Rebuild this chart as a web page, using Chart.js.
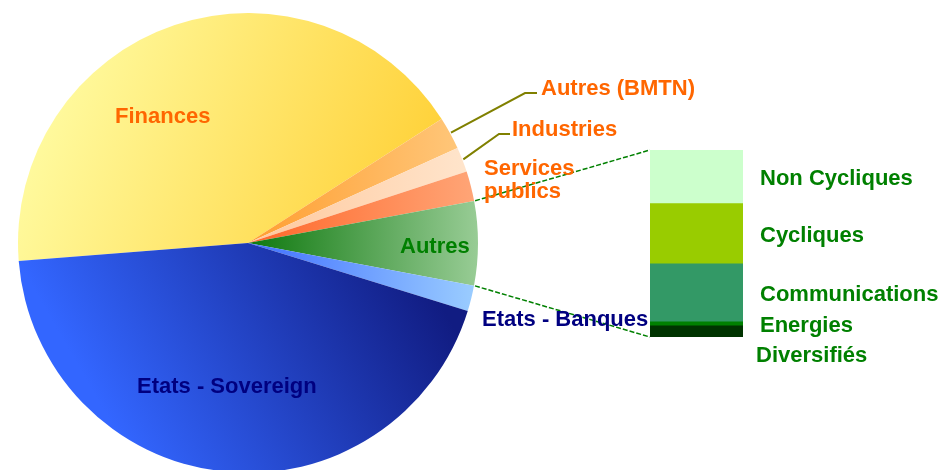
<html>

<head>
    <script src="https://cdn.jsdelivr.net/npm/chart.js@4/dist/chart.umd.min.js"></script>
    <style>
        body { margin: 0; overflow: hidden; background: #fff; }
        #pieChart { position: absolute; left: 0; top: 0; }
        #barChart { position: absolute; left: 640px; top: 140px; }
    </style>
</head>

<body>
    <canvas id="pieChart" width="940" height="480"></canvas>
    <canvas id="barChart" width="300" height="230"></canvas>
    <script>
        // pie slices, clockwise starting from Finances
        var pieLabels = ["Finances", "Autres (BMTN)", "Industries", "Services publics", "Autres", "Etats - Banques", "Etats - Sovereign"];
        var pieValues = [42.2, 2.3, 1.75, 2.1, 5.9, 1.8, 44.0];

        // breakdown of "Autres", bottom to top
        var barLabels = ["Diversifiés", "Energies", "Communications", "Cycliques", "Non Cycliques"];
        var barValues = [0.35, 0.13, 1.83, 1.9, 1.69];
        var barColors = ["#003300", "#008000", "#339966", "#99CC00", "#CCFFCC"];

        var FONT = "bold 22px 'Liberation Sans', Arial, sans-serif";
        var ORANGE = "#FF6600", GREEN = "#008000", NAVY = "#000080";

        var barTotal = 0;
        for (var i = 0; i < barValues.length; i++) barTotal += barValues[i];

        var barLabelPlugin = {
            id: "barLabels",
            afterDatasetsDraw: function (chart) {
                var c = chart.ctx;
                c.save();
                c.font = FONT;
                c.fillStyle = GREEN;
                c.textBaseline = "alphabetic";
                for (var d = 0; d < barLabels.length; d++) {
                    var el = chart.getDatasetMeta(d).data[0];
                    var mid = (el.y + el.base) / 2;
                    var right = el.x + el.width / 2;
                    var dx = 17, dy = 8;
                    if (barLabels[d] == "Diversifiés") { dx = 13; dy = 30.5; }
                    c.fillText(barLabels[d], right + dx, mid + dy);
                }
                c.restore();
            }
        };

        var barChart = new Chart("barChart", {
            type: "bar",
            data: {
                labels: ["Autres"],
                datasets: barLabels.map(function (l, i) {
                    return {
                        label: l,
                        data: [barValues[i]],
                        backgroundColor: barColors[i],
                        borderWidth: 0,
                        barPercentage: 1,
                        categoryPercentage: 1
                    };
                })
            },
            options: {
                responsive: false,
                animation: false,
                events: [],
                layout: { padding: { left: 10, top: 10, right: 197, bottom: 33 } },
                plugins: { legend: { display: false }, tooltip: { enabled: false } },
                scales: {
                    x: { display: false, stacked: true },
                    y: { display: false, stacked: true, min: 0, max: barTotal }
                }
            },
            plugins: [barLabelPlugin]
        });

        function sliceColor(ctx) {
            var chart = ctx.chart;
            var a = chart.chartArea;
            if (!a) return "#ccc";
            var cx = (a.left + a.right) / 2, cy = (a.top + a.bottom) / 2;
            var r = Math.min(a.right - a.left, a.bottom - a.top) / 2;
            var c = chart.ctx, g;
            switch (ctx.dataIndex) {
                case 0:
                    g = c.createLinearGradient(cx - 0.8 * r, cy - 0.75 * r, cx + 0.7 * r, cy - 0.15 * r);
                    g.addColorStop(0, "#FFFA9E"); g.addColorStop(1, "#FFD23A");
                    return g;
                case 6:
                    g = c.createLinearGradient(cx - 0.5 * r, cy + 0.95 * r, cx + 0.8 * r, cy + 0.2 * r);
                    g.addColorStop(0, "#3366FF"); g.addColorStop(1, "#111C82");
                    return g;
                case 1: g = c.createLinearGradient(cx, cy, cx + r, cy); g.addColorStop(0, "#FF9E30"); g.addColorStop(1, "#FFCA80"); return g;
                case 2: g = c.createLinearGradient(cx, cy, cx + r, cy); g.addColorStop(0, "#FFC89C"); g.addColorStop(1, "#FFE6CE"); return g;
                case 3: g = c.createLinearGradient(cx, cy, cx + r, cy); g.addColorStop(0, "#FF6628"); g.addColorStop(1, "#FFA678"); return g;
                case 4: g = c.createLinearGradient(cx, cy, cx + r, cy); g.addColorStop(0, "#0E780E"); g.addColorStop(1, "#98CC95"); return g;
                case 5: g = c.createLinearGradient(cx, cy, cx + r, cy); g.addColorStop(0, "#3F6FFF"); g.addColorStop(1, "#9CCEFF"); return g;
            }
        }

        function arcPoint(arc, ang, extra) {
            var rr = arc.outerRadius + (extra || 0);
            return { x: arc.x + rr * Math.cos(ang), y: arc.y + rr * Math.sin(ang) };
        }

        var pieLabelPlugin = {
            id: "pieLabels",
            afterDatasetsDraw: function (chart) {
                var c = chart.ctx;
                var arcs = chart.getDatasetMeta(0).data;
                var off = { x: 640, y: 140 };
                c.save();

                // leader lines for the two thin slices
                c.strokeStyle = "#808000";
                c.lineWidth = 2;
                var leaders = [[1, 525, 93, 537], [2, 499, 134, 510]];
                leaders.forEach(function (l) {
                    var arc = arcs[l[0]];
                    var p = arcPoint(arc, (arc.startAngle + arc.endAngle) / 2, 1);
                    c.beginPath();
                    c.moveTo(p.x, p.y);
                    c.lineTo(l[1], l[2]);
                    c.lineTo(l[3], l[2]);
                    c.stroke();
                });

                // dashed connectors from "Autres" to the bar
                var autres = arcs[4];
                var topEl = barChart.getDatasetMeta(barLabels.length - 1).data[0];
                var botEl = barChart.getDatasetMeta(0).data[0];
                var p1 = arcPoint(autres, autres.startAngle, 1);
                var p2 = arcPoint(autres, autres.endAngle, 1);
                c.strokeStyle = GREEN;
                c.lineWidth = 1.5;
                c.setLineDash([5, 2]);
                c.beginPath();
                c.moveTo(p1.x, p1.y);
                c.lineTo(off.x + topEl.x - topEl.width / 2, off.y + topEl.y);
                c.moveTo(p2.x, p2.y);
                c.lineTo(off.x + botEl.x - botEl.width / 2, off.y + botEl.base);
                c.stroke();
                c.setLineDash([]);

                c.font = FONT;
                c.textBaseline = "alphabetic";
                c.fillStyle = ORANGE;
                c.fillText("Finances", 115, 123);
                c.fillText("Autres (BMTN)", 541, 95);
                c.fillText("Industries", 512, 136);
                c.fillText("Services", 484, 175);
                c.fillText("publics", 484, 198);
                c.fillStyle = GREEN;
                c.fillText("Autres", 400, 253);
                c.fillStyle = NAVY;
                c.fillText("Etats - Banques", 482, 326);
                c.fillText("Etats - Sovereign", 137, 393);
                c.restore();
            }
        };

        new Chart("pieChart", {
            type: "pie",
            data: {
                labels: pieLabels,
                datasets: [{
                    data: pieValues,
                    backgroundColor: sliceColor,
                    borderWidth: 0,
                    hoverBorderWidth: 0,
                    hoverOffset: 0
                }]
            },
            options: {
                responsive: false,
                animation: false,
                events: [],
                rotation: 265.5,
                layout: { padding: { left: 18, top: 13, right: 462, bottom: 7 } },
                plugins: { legend: { display: false }, tooltip: { enabled: false } }
            },
            plugins: [pieLabelPlugin]
        });
    </script>
</body>

</html>
